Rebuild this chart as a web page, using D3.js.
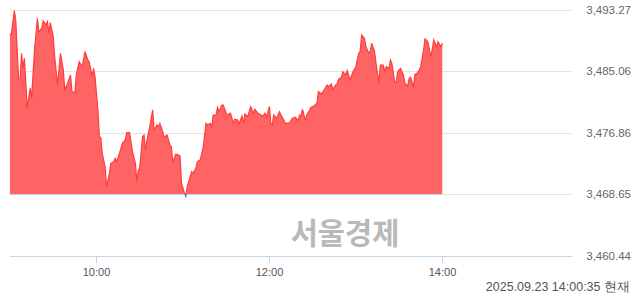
<!DOCTYPE html>
<html>
<head>
<meta charset="utf-8">
<script src="https://cdn.jsdelivr.net/npm/d3@7"></script>
<style>
  body { margin: 0; background: #fff; }
  svg { display: block; }
</style>
</head>
<body>
<div id="chart"></div>
<script>
// intraday index data (time, value)
var times = [
  "09:00", "09:01", "09:03", "09:04", "09:06", "09:07", "09:08", "09:09", "09:10", "09:12",
  "09:14", "09:15", "09:17", "09:19", "09:20", "09:22", "09:23", "09:25", "09:26", "09:27",
  "09:28", "09:30", "09:31", "09:33", "09:35", "09:37", "09:38", "09:40", "09:42", "09:43",
  "09:45", "09:46", "09:48", "09:50", "09:51", "09:52", "09:54", "09:55", "09:57", "09:58",
  "09:59", "10:01", "10:02", "10:03", "10:04", "10:06", "10:07", "10:09", "10:10", "10:12",
  "10:13", "10:14", "10:16", "10:18", "10:20", "10:21", "10:23", "10:25", "10:27", "10:28",
  "10:29", "10:30", "10:32", "10:33", "10:34", "10:35", "10:37", "10:39", "10:40", "10:42",
  "10:43", "10:44", "10:46", "10:47", "10:49", "10:51", "10:52", "10:53", "10:55", "10:57",
  "10:58", "10:59", "11:01", "11:02", "11:03", "11:05", "11:06", "11:07", "11:09", "11:10",
  "11:12", "11:14", "11:16", "11:17", "11:19", "11:20", "11:21", "11:23", "11:24", "11:25",
  "11:27", "11:28", "11:30", "11:31", "11:33", "11:35", "11:36", "11:38", "11:39", "11:41",
  "11:42", "11:43", "11:45", "11:47", "11:49", "11:50", "11:52", "11:54", "11:55", "11:57",
  "11:58", "12:00", "12:01", "12:02", "12:03", "12:05", "12:07", "12:08", "12:10", "12:11",
  "12:14", "12:16", "12:18", "12:20", "12:21", "12:22", "12:23", "12:25", "12:26", "12:28",
  "12:29", "12:31", "12:33", "12:34", "12:36", "12:38", "12:40", "12:41", "12:43", "12:44",
  "12:46", "12:47", "12:48", "12:50", "12:51", "12:53", "12:54", "12:56", "12:58", "12:59",
  "13:00", "13:02", "13:03", "13:04", "13:06", "13:07", "13:09", "13:10", "13:11", "13:13",
  "13:14", "13:16", "13:17", "13:19", "13:20", "13:21", "13:23", "13:24", "13:25", "13:27",
  "13:28", "13:29", "13:31", "13:33", "13:34", "13:36", "13:37", "13:38", "13:40", "13:41",
  "13:42", "13:44", "13:45", "13:47", "13:48", "13:50", "13:52", "13:53", "13:54", "13:56",
  "13:57", "13:59", "14:00"
]
var values = [
  3489.87, 3490.10, 3493.11, 3491.87, 3483.88, 3483.88, 3487.44, 3485.44, 3486.77, 3480.15,
  3482.82, 3481.48, 3487.88, 3492.10, 3490.31, 3490.77, 3491.74, 3491.21, 3491.65, 3490.10,
  3491.51, 3489.65, 3486.98, 3483.21, 3487.44, 3485.21, 3482.55, 3483.44, 3484.55, 3482.32,
  3482.19, 3484.55, 3486.32, 3485.65, 3486.54, 3487.65, 3486.54, 3486.32, 3484.32, 3485.44,
  3484.32, 3479.89, 3476.33, 3476.25, 3474.12, 3472.33, 3469.67, 3471.46, 3472.79, 3473.00,
  3473.45, 3473.00, 3474.12, 3475.45, 3475.89, 3476.86, 3476.86, 3474.33, 3472.79, 3470.34,
  3471.89, 3472.12, 3476.33, 3476.56, 3474.56, 3475.89, 3477.66, 3479.89, 3477.22, 3477.89,
  3477.66, 3478.11, 3477.00, 3476.25, 3476.56, 3475.22, 3475.00, 3472.87, 3474.03, 3473.89,
  3473.76, 3470.12, 3468.87, 3468.43, 3469.67, 3471.00, 3471.67, 3471.46, 3472.12, 3473.00,
  3473.23, 3474.82, 3478.11, 3477.89, 3478.11, 3477.66, 3479.22, 3479.22, 3480.24, 3479.66,
  3480.55, 3480.55, 3479.45, 3479.22, 3479.45, 3478.11, 3478.65, 3478.55, 3478.02, 3479.09,
  3478.11, 3479.35, 3478.99, 3480.33, 3479.45, 3479.98, 3479.45, 3479.22, 3478.99, 3479.45,
  3478.91, 3480.33, 3478.11, 3477.89, 3479.22, 3478.78, 3479.66, 3479.22, 3478.55, 3478.11,
  3478.19, 3478.78, 3478.91, 3478.46, 3479.22, 3479.22, 3479.98, 3478.46, 3479.22, 3479.89,
  3480.24, 3480.42, 3480.78, 3482.32, 3482.02, 3482.55, 3483.21, 3482.99, 3483.35, 3482.64,
  3483.21, 3483.35, 3483.97, 3484.24, 3484.99, 3484.55, 3485.12, 3483.88, 3484.99, 3485.31,
  3485.65, 3487.44, 3487.65, 3489.87, 3489.43, 3488.32, 3487.44, 3487.65, 3488.77, 3487.65,
  3486.10, 3483.52, 3485.88, 3485.88, 3484.99, 3485.65, 3485.44, 3486.54, 3486.10, 3483.52,
  3483.65, 3484.99, 3485.44, 3484.55, 3483.44, 3483.08, 3484.11, 3484.24, 3482.91, 3484.68,
  3484.68, 3485.21, 3485.65, 3487.88, 3489.38, 3488.98, 3486.98, 3487.88, 3489.21, 3488.32,
  3488.98, 3488.32, 3488.77
]
var prevClose = 3468.65
var yTicks = [3493.27, 3485.06, 3476.86, 3468.65, 3460.44]
var xTicks = ["10:00", "12:00", "14:00"]
var sessionStart = "09:00"
var sessionEnd = "15:30"
var watermark = "서울경제"
var stamp = "2025.09.23 14:00:35 현재"

var width = 640
var height = 294
var plotLeft = 10, plotRight = 572, plotTop = 9.5, plotBottom = 256

var parseTime = d3.timeParse("%H:%M")
var data = times.map(function (t, i) { return { t: parseTime(t), v: values[i] } })

var svg = d3.select("#chart")
    .append("svg")
    .attr("width", width)
    .attr("height", height)

var x = d3.scaleTime()
    .domain([parseTime(sessionStart), parseTime(sessionEnd)])
    .range([plotLeft, plotRight])

var y = d3.scaleLinear()
    .domain([yTicks[yTicks.length - 1], yTicks[0]])
    .range([plotBottom, plotTop])

var font = "Tahoma, 'Liberation Sans', Arial, sans-serif"

// watermark
svg.append("text")
    .attr("x", 345).attr("y", 244)
    .attr("text-anchor", "middle")
    .style("font-family", "'Noto Sans CJK KR', sans-serif")
    .style("font-weight", "bold")
    .style("font-size", "29.5px")
    .style("fill", "#b9b9b9")
    .text(watermark)

// grid lines
svg.append("g")
    .selectAll("line")
    .data(yTicks.slice(0, yTicks.length - 1))
    .enter()
    .append("line")
    .attr("x1", plotLeft).attr("x2", plotRight)
    .attr("y1", function (d) { return Math.round(y(d)) + 0.5 })
    .attr("y2", function (d) { return Math.round(y(d)) + 0.5 })
    .style("stroke", "#e3e3e3")
    .style("stroke-width", 1)

// clip regions above / below previous close
var baseY = y(prevClose)
var defs = svg.append("defs")
defs.append("clipPath").attr("id", "clipUp")
    .append("rect").attr("x", 0).attr("y", 0).attr("width", width).attr("height", baseY)
defs.append("clipPath").attr("id", "clipDown")
    .append("rect").attr("x", 0).attr("y", baseY).attr("width", width).attr("height", height - baseY)

var area = d3.area()
    .x(function (d) { return x(d.t) })
    .y0(baseY)
    .y1(function (d) { return y(d.v) })

var line = d3.line()
    .x(function (d) { return x(d.t) })
    .y(function (d) { return y(d.v) })

svg.append("path").datum(data)
    .attr("d", area)
    .attr("clip-path", "url(#clipUp)")
    .style("fill", "#ff6464")

svg.append("path").datum(data)
    .attr("d", line)
    .attr("clip-path", "url(#clipUp)")
    .style("fill", "none")
    .style("stroke", "#ff3c3c")
    .style("stroke-width", 1.2)

svg.append("path").datum(data)
    .attr("d", area)
    .attr("clip-path", "url(#clipDown)")
    .style("fill", "#6a9cff")

svg.append("path").datum(data)
    .attr("d", line)
    .attr("clip-path", "url(#clipDown)")
    .style("fill", "none")
    .style("stroke", "#2f6fff")
    .style("stroke-width", 1.4)

// x axis
svg.append("line")
    .attr("x1", plotLeft).attr("x2", plotRight)
    .attr("y1", plotBottom + 0.5).attr("y2", plotBottom + 0.5)
    .style("stroke", "#c6d4ea")

var xt = svg.append("g")
    .selectAll("g")
    .data(xTicks)
    .enter()
    .append("g")
    .attr("transform", function (d) { return "translate(" + (Math.round(x(parseTime(d))) + 0.5) + ",0)" })

xt.append("line")
    .attr("y1", plotBottom).attr("y2", plotBottom + 7)
    .style("stroke", "#c6d4ea")

xt.append("text")
    .attr("y", 275.5)
    .attr("text-anchor", "middle")
    .style("font-family", font)
    .style("font-size", "11px")
    .style("fill", "#555")
    .text(function (d) { return d })

// y labels
svg.append("g")
    .selectAll("text")
    .data(yTicks)
    .enter()
    .append("text")
    .attr("x", 631)
    .attr("y", function (d) { return y(d) + 4 })
    .attr("text-anchor", "end")
    .style("font-family", font)
    .style("font-size", "11.5px")
    .style("fill", "#666")
    .text(function (d) { return d3.format(",.2f")(d) })

// timestamp
svg.append("text")
    .attr("x", 630).attr("y", 290.5)
    .attr("text-anchor", "end")
    .style("font-family", font)
    .style("font-size", "12.5px")
    .style("fill", "#555")
    .text(stamp)
</script>
</body>
</html>
